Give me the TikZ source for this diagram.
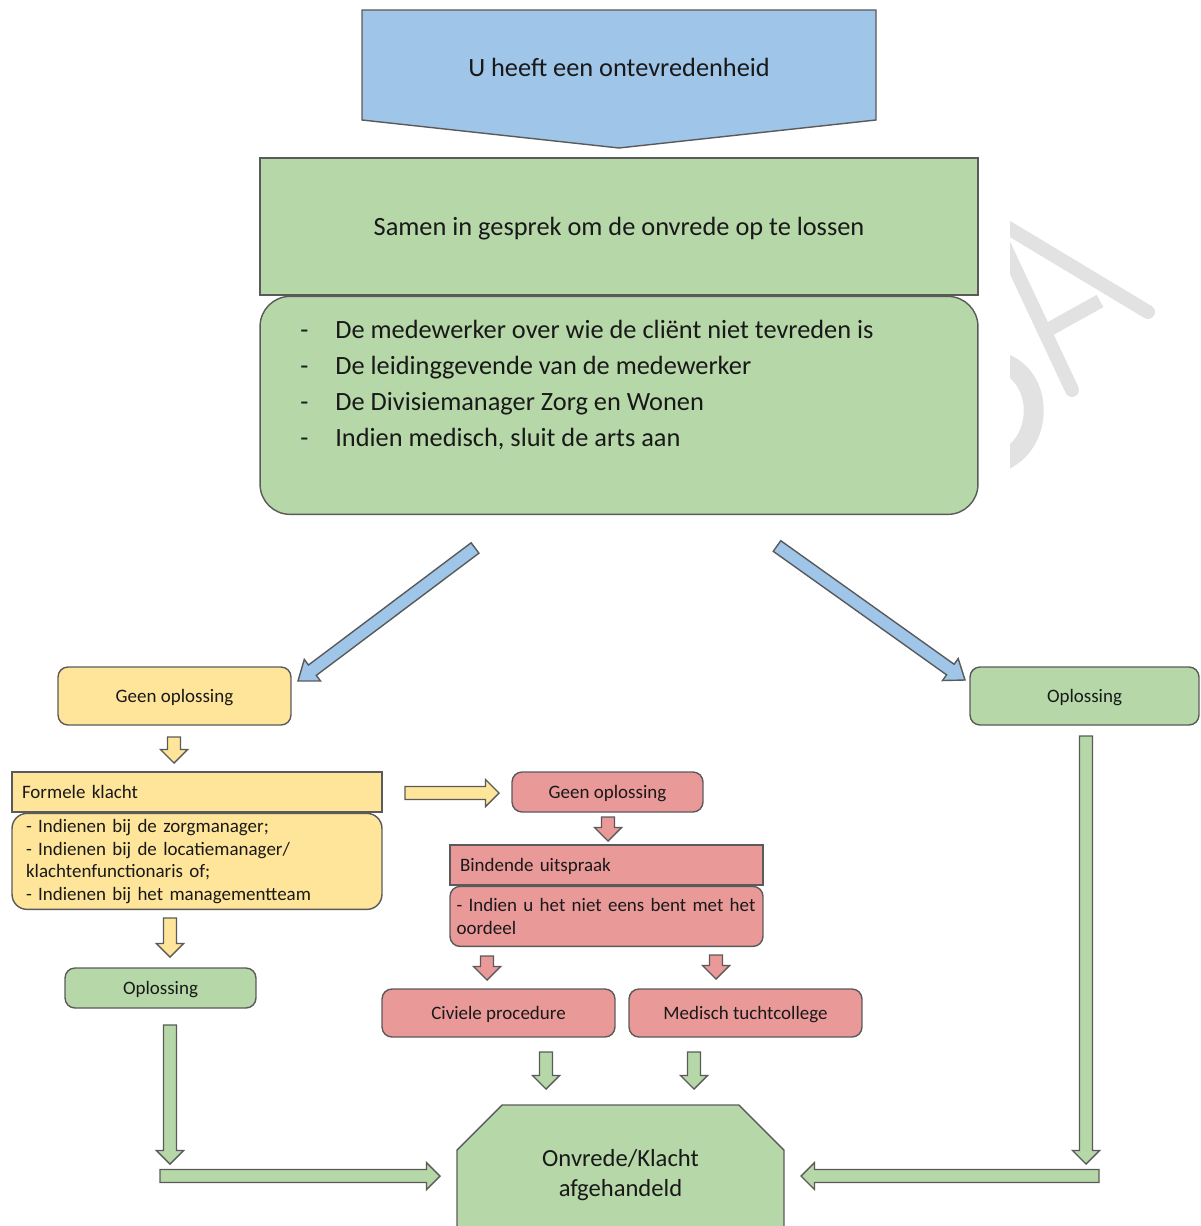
\documentclass[tikz,border=0pt]{standalone}
\usepackage{fontspec}
\setmainfont{Carlito}
\usetikzlibrary{calc,shapes.misc}

\definecolor{lichtblauw}{HTML}{9FC5E8}
\definecolor{lichtgroen}{HTML}{B6D7A8}
\definecolor{lichtgeel}{HTML}{FFE599}
\definecolor{lichtrood}{HTML}{EA9999}
\definecolor{rand}{HTML}{5A5A5A}
\definecolor{watermerk}{HTML}{E2E2E2}

% blokpijl: [koplengte], vulkleur, begin, eind
\newcommand{\blokpijl}[4][0.27cm]{%
  \coordinate (bp-m) at ($(#4)!#1!(#3)$);
  \filldraw[fill=#2, draw=rand, line width=0.8pt, line join=miter]
    ($(#3)!0.13cm!90:(#4)$) -- ($(bp-m)!0.13cm!-90:(#3)$) -- ($(bp-m)!0.27cm!-90:(#3)$) -- (#4)
    -- ($(bp-m)!0.27cm!90:(#3)$) -- ($(bp-m)!0.13cm!90:(#3)$) -- ($(#3)!0.13cm!-90:(#4)$) -- cycle;
}

\begin{document}
\begin{tikzpicture}[x=0.02cm, y=-0.02cm,
    vak/.style={draw=rand, line width=0.8pt, text=black!90, inner sep=0pt,
                font=\fontsize{10.8}{12.8}\selectfont},
    regel/.style={vak, text depth=0pt},
    groot/.style={vak, text depth=0pt, font=\fontsize{15}{20}\selectfont}]
\useasboundingbox (0,0) rectangle (1200,1226);

% watermerk
\begin{scope}
  \clip (1010,0) rectangle (1200,1226);
  \draw[watermerk, line width=0.28cm, line cap=round] (985,214) -- (1148,312);
  \draw[watermerk, line width=0.28cm, line cap=round] (995,226) -- (1072,390);
  \draw[watermerk, line width=0.28cm] (1046,331) -- (1100,301);
  \draw[watermerk, line width=0.4cm] (1000,362) .. controls (1045,375) and (1045,445) .. (1000,462);
\end{scope}

% bovenste vorm
\filldraw[fill=lichtblauw, draw=rand, line width=0.8pt] (362,10) -- (876,10) -- (876,120) -- (619,148) -- (362,120) -- cycle;
\node[text=black!90, font=\fontsize{15}{20}\selectfont] (ontevreden) at (619,67) {U heeft een ontevredenheid};

\node[groot, fill=lichtgroen, minimum width=14.36cm, minimum height=2.74cm] (samen) at (619,226.5)
  {Samen in gesprek om de onvrede op te lossen};
\node[groot, fill=lichtgroen, rounded corners=0.6cm, minimum width=14.36cm, minimum height=4.36cm,
  anchor=north] (betrokken) at (samen.south) {};
\node[text=black!90, inner sep=0pt, anchor=north west, align=left,
  font=\fontsize{15}{20.4}\selectfont] (betrokkentekst) at (300,320)
  {\makebox[0.7cm][l]{-}De medewerker over wie de cliënt niet tevreden is\\
   \makebox[0.7cm][l]{-}De leidinggevende van de medewerker\\
   \makebox[0.7cm][l]{-}De Divisiemanager Zorg en Wonen\\
   \makebox[0.7cm][l]{-}Indien medisch, sluit de arts aan};

% linker tak
\node[regel, fill=lichtgeel, rounded corners=0.2cm, minimum width=4.66cm, minimum height=1.16cm] (geenA) at (174.5,696) {Geen oplossing};
\node[regel, fill=lichtgeel, minimum width=7.4cm, minimum height=0.8cm, text width=7.0cm, align=left] (formeel) at (197,792) {Formele klacht};
\node[vak, fill=lichtgeel, rounded corners=0.3cm, minimum width=7.4cm, minimum height=1.92cm, text width=6.84cm, align=left,
  anchor=north] (indienen) at (formeel.south)
  {- Indienen bij de zorgmanager;\\ - Indienen bij de locatiemanager/\\ klachtenfunctionaris of;\\ - Indienen bij het managementteam};
\node[regel, fill=lichtgroen, rounded corners=0.2cm, minimum width=3.82cm, minimum height=0.8cm] (oplL) at (160.5,988) {Oplossing};

% midden
\node[regel, fill=lichtrood, rounded corners=0.2cm, minimum width=3.82cm, minimum height=0.8cm] (geenB) at (607.5,792) {Geen oplossing};
\node[regel, fill=lichtrood, minimum width=6.26cm, minimum height=0.8cm, text width=5.86cm, align=left] (bindend) at (606.5,865) {Bindende uitspraak};
\node[vak, fill=lichtrood, rounded corners=0.2cm, minimum width=6.26cm, minimum height=1.2cm, text width=6.0cm, align=left,
  anchor=north] (oordeel) at (bindend.south) {- Indien u het niet eens bent met het\\ oordeel};
\node[regel, fill=lichtrood, rounded corners=0.2cm, minimum width=4.66cm, minimum height=0.96cm] (civiel) at (498.5,1013) {Civiele procedure};
\node[regel, fill=lichtrood, rounded corners=0.2cm, minimum width=4.66cm, minimum height=0.96cm] (tucht) at (745.5,1013) {Medisch tuchtcollege};

% rechter tak
\node[regel, fill=lichtgroen, rounded corners=0.2cm, minimum width=4.58cm, minimum height=1.16cm] (oplR) at (1084.5,696) {Oplossing};

% einde
\node[vak, fill=lichtgroen, chamfered rectangle, chamfered rectangle corners={north west,north east},
  chamfered rectangle xsep=0.4cm, chamfered rectangle ysep=0.5cm, minimum width=6.54cm, minimum height=2.8cm,
  align=center, font=\fontsize{14}{17}\selectfont] (afgehandeld) at (620.5,1175) {Onvrede/Klacht\\afgehandeld};

% pijlen
\coordinate (bl1) at (475,548);  \coordinate (bl2) at (298,681);
\coordinate (br1) at (777,546);  \coordinate (br2) at (965,680);
\coordinate (ge1) at (174,737);  \coordinate (ge2) at (174,763);
\coordinate (ge3) at (405,793);  \coordinate (ge4) at (499,793);
\coordinate (ge5) at (170,918);  \coordinate (ge6) at (170,957);
\coordinate (ro1) at (608,817);  \coordinate (ro2) at (608,841);
\coordinate (ro3) at (487,956);  \coordinate (ro4) at (487,980);
\coordinate (ro5) at (716,955);  \coordinate (ro6) at (716,979);
\coordinate (gr1) at (546,1052); \coordinate (gr2) at (546,1089);
\coordinate (gr3) at (694,1052); \coordinate (gr4) at (694,1089);
\coordinate (gr5) at (170,1025); \coordinate (gr6) at (170,1164);
\coordinate (gr7) at (160,1176); \coordinate (gr8) at (440,1176);
\coordinate (gr9) at (1086,736); \coordinate (gr10) at (1086,1164);
\coordinate (gr11) at (1099,1176); \coordinate (gr12) at (801,1176);

\blokpijl[0.36cm]{lichtblauw}{bl1}{bl2}
\blokpijl[0.36cm]{lichtblauw}{br1}{br2}
\blokpijl{lichtgeel}{ge1}{ge2}
\blokpijl{lichtgeel}{ge3}{ge4}
\blokpijl{lichtgeel}{ge5}{ge6}
\blokpijl{lichtrood}{ro1}{ro2}
\blokpijl{lichtrood}{ro3}{ro4}
\blokpijl{lichtrood}{ro5}{ro6}
\blokpijl{lichtgroen}{gr1}{gr2}
\blokpijl{lichtgroen}{gr3}{gr4}
\blokpijl{lichtgroen}{gr5}{gr6}
\blokpijl{lichtgroen}{gr7}{gr8}
\blokpijl{lichtgroen}{gr9}{gr10}
\blokpijl{lichtgroen}{gr11}{gr12}
\end{tikzpicture}
\end{document}
